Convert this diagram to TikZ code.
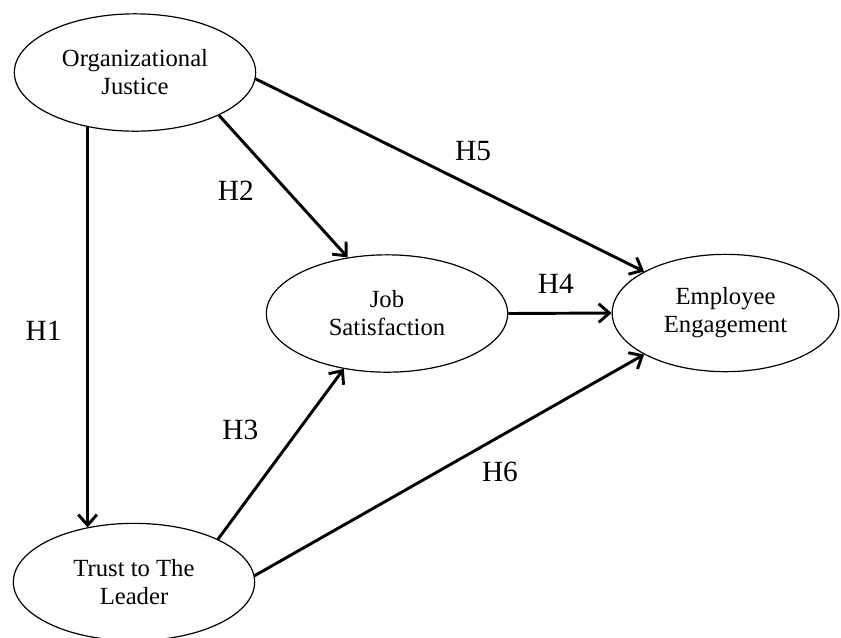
\documentclass[tikz,border=0pt]{standalone}
\usepackage{fontspec}
\setmainfont{Liberation Serif}
\usetikzlibrary{shapes.geometric, arrows.meta, calc}

\begin{document}
\begin{tikzpicture}[
        x=0.75pt, y=-0.75pt,
        construct/.style={ellipse, draw=black, line width=0.9pt, minimum width=181pt, minimum height=88pt, inner sep=0pt, align=center, font=\fontsize{18.5}{21}\selectfont},
        hyp/.style={inner sep=0pt, font=\fontsize{22}{24}\selectfont},
        arrow/.style={line width=2.2pt, -{Straight Barb[length=8pt,width=14pt]}}
    ]
        \useasboundingbox (0,0) rectangle (841,637);

        % Constructs
        \node[construct] (oj) at (135,72.5) {Organizational\\Justice};
        \node[construct] (js) at (387,313.5) {Job\\Satisfaction};
        \node[construct, minimum width=170pt] (ee) at (725.5,313) {Employee\\Engagement};
        \node[construct] (tl) at (134,582) {Trust to The\\Leader};

        % Hypotheses
        \draw[arrow] (oj.-131) -- node[hyp, pos=0.51, left=18.5pt] {H1} (oj.-131 |- tl.131);
        \draw[arrow] (oj.-27) -- node[hyp, pos=0.53, left=24pt] {H2} (js.125);
        \draw[arrow] (tl.27) -- node[hyp, pos=0.64, left=29pt] {H3} (js.-128);
        \draw[arrow] (js.east) -- node[hyp, pos=0.46, above=14pt] {H4} (ee.west);
        \draw[arrow] (oj.-3) -- node[hyp, pos=0.56, above=18pt] {H5} (ee.153);
        \draw[arrow] (tl.3) -- node[hyp, pos=0.63, below=18pt] {H6} (ee.-153);
    \end{tikzpicture}
\end{document}
